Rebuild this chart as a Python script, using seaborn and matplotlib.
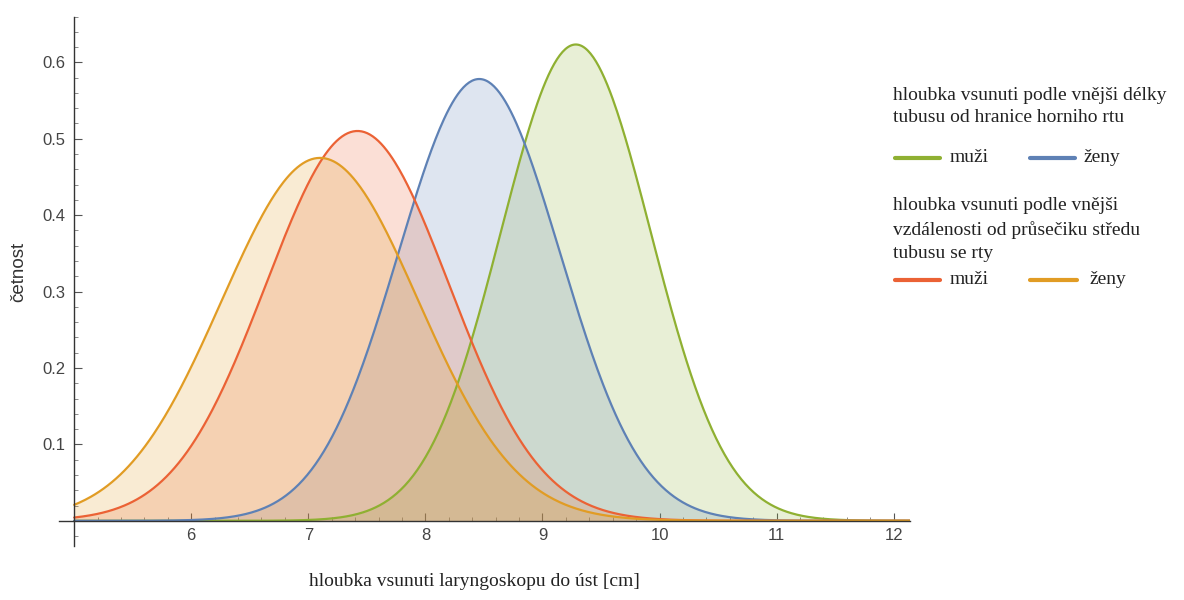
import numpy as np
import pandas as pd
import seaborn as sns
import matplotlib.pyplot as plt
from matplotlib.lines import Line2D
from matplotlib.ticker import MultipleLocator

# Normal curves (mean, sd in cm)
groups = ["muži (délka)", "ženy (délka)", "muži (vzdálenost)", "ženy (vzdálenost)"]
means = [9.285, 8.46, 7.42, 7.10]
sds = [0.640, 0.690, 0.782, 0.840]
colors = ["#8fb032", "#5e81b5", "#eb6235", "#e19c24"]

x_ticks = [6, 7, 8, 9, 10, 11, 12]
y_ticks = [0.1, 0.2, 0.3, 0.4, 0.5, 0.6]

sns.set_style("white")
plt.rcParams['font.family'] = ['Liberation Sans', 'DejaVu Sans']

# Build a long table of the density curves
xs = np.linspace(5, 12.14, 600)
rows = []
for g, m, s in zip(groups, means, sds):
    y = np.exp(-0.5 * ((xs - m) / s) ** 2) / (s * np.sqrt(2 * np.pi))
    rows.append(pd.DataFrame({"x": xs, "y": y, "group": g}))
df = pd.concat(rows, ignore_index=True)

fig = plt.figure(figsize=(11.84, 6), dpi=100)
ax = fig.add_axes([0.0498, 0.09, 0.7188, 0.8825])

for g, c in zip(groups, colors):
    d = df[df.group == g]
    ax.fill_between(d.x, 0, d.y, color=c, alpha=0.2, linewidth=0)
sns.lineplot(data=df, x="x", y="y", hue="group", palette=colors,
             linewidth=1.6, legend=False, ax=ax)

ax.set_xlim(4.87, 12.14)
ax.set_ylim(-0.033, 0.66)
ax.spines['left'].set_position(('data', 5))
ax.spines['bottom'].set_position(('data', 0))
ax.spines['right'].set_visible(False)
ax.spines['top'].set_visible(False)
for sp in ['left', 'bottom']:
    ax.spines[sp].set_color('#333333')
    ax.spines[sp].set_linewidth(1.0)

ax.set_xticks(x_ticks)
ax.set_yticks(y_ticks)
ax.set_yticklabels([f"{v:.1f}" for v in y_ticks])
ax.xaxis.set_minor_locator(MultipleLocator(0.2))
ax.yaxis.set_minor_locator(MultipleLocator(0.02))
ax.tick_params(which='both', bottom=True, left=True)
ax.tick_params(which='major', direction='in', length=6, width=0.8, color='#555555',
               labelsize=12, labelcolor='#444444')
ax.tick_params(which='minor', direction='in', length=3, width=0.6, color='#777777')
ax.tick_params(axis='x', pad=5)
ax.tick_params(axis='y', pad=6)
ax.set_xlabel("")
ax.set_ylabel("")

fig.text(0.016, 0.547, "četnost", rotation=90, ha='center', va='center',
         fontsize=13.5, color='#333333')
fig.text(0.401, 0.016, "hloubka vsunuti laryngoskopu do úst [cm]", ha='center',
         va='bottom', fontsize=14, family='Liberation Serif', color='#222222')

# Manual legend on the right
serif = dict(fontsize=14, family='Liberation Serif', color='#222222', va='center')
W, H = 1184, 600
def ftext(px, py, s):
    fig.text(px / W, 1 - py / H, s, **serif)
def fline(x0, x1, py, c):
    fig.add_artist(Line2D([x0 / W, x1 / W], [1 - py / H] * 2, color=c, linewidth=3,
                          transform=fig.transFigure))

ftext(893, 95, "hloubka vsunuti podle vnějši délky")
ftext(893, 118, "tubusu od hranice horniho rtu")
fline(895, 940, 158, colors[0]); ftext(950, 158, "muži")
fline(1030, 1075, 158, colors[1]); ftext(1083, 158, "ženy")
ftext(893, 206, "hloubka vsunuti podle vnějši")
ftext(893, 230, "vzdálenosti od průsečiku středu")
ftext(893, 253, "tubusu se rty")
fline(895, 940, 280, colors[2]); ftext(950, 280, "muži")
fline(1030, 1077, 280, colors[3]); ftext(1090, 280, "ženy")

fig.savefig("out.png", dpi=100)
